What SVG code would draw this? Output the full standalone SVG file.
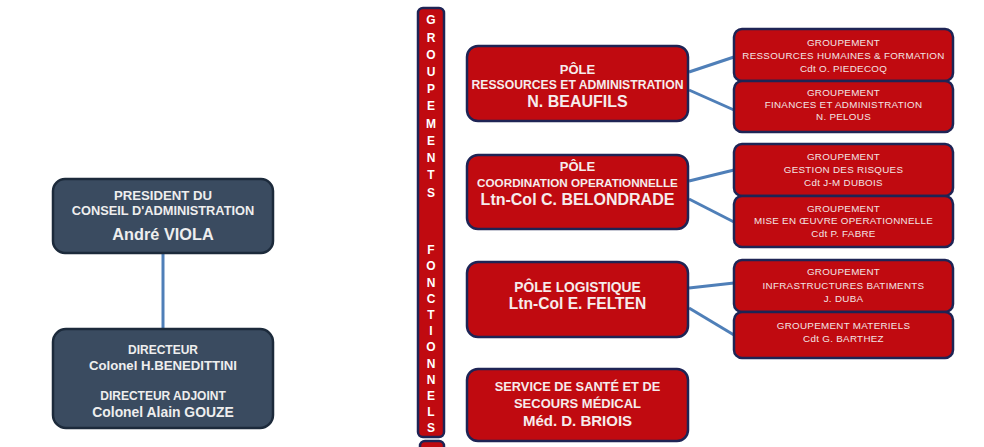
<svg xmlns="http://www.w3.org/2000/svg" width="984" height="447" viewBox="0 0 984 447">
<style>
.dark{fill:#3a4b60;stroke:#1c2a3b;stroke-width:2.5}
.red{fill:#c00a10;stroke:#1e2455;stroke-width:2.5}
.t{font-family:"Liberation Sans",Arial,sans-serif;text-anchor:middle;font-weight:bold}
.lt{fill:#eeeeee}
.rt{fill:#f6ecec}
.g{font-family:"Liberation Sans",Arial,sans-serif;text-anchor:middle;fill:#f2e4e4;font-size:9.8px;letter-spacing:0.3px}
.v{font-family:"Liberation Sans",Arial,sans-serif;text-anchor:middle;font-weight:bold;fill:#ffffff;font-size:12px}
.c{stroke:#4f7fb8;stroke-width:3;fill:none}
</style>
<rect width="984" height="447" fill="#ffffff"/>
<g id="connectors">
<line class="c" x1="163" y1="253" x2="163" y2="329"/>
<line class="c" x1="689" y1="72" x2="734" y2="57"/>
<line class="c" x1="689" y1="90" x2="734" y2="110"/>
<line class="c" x1="689" y1="181" x2="734" y2="170"/>
<line class="c" x1="689" y1="199" x2="734" y2="222"/>
<line class="c" x1="689" y1="288" x2="734" y2="283"/>
<line class="c" x1="689" y1="308" x2="734" y2="335"/>
</g>
<g id="president">
<rect class="dark" x="53" y="179" width="220" height="74" rx="12"/>
<text class="t lt" x="163" y="200" font-size="13.2">PRESIDENT DU</text>
<text class="t lt" x="163" y="215" font-size="12.8">CONSEIL D'ADMINISTRATION</text>
<text class="t lt" x="163" y="240" font-size="16.3">André VIOLA</text>
</g>
<g id="directeur">
<rect class="dark" x="53" y="329" width="220" height="99" rx="13"/>
<text class="t lt" x="163" y="354" font-size="12">DIRECTEUR</text>
<text class="t lt" x="163" y="370" font-size="13.2">Colonel H.BENEDITTINI</text>
<text class="t lt" x="163" y="400" font-size="12">DIRECTEUR ADJOINT</text>
<text class="t lt" x="163" y="417" font-size="13.9">Colonel Alain GOUZE</text>
</g>
<g id="bar">
<rect class="red" x="418" y="8" width="26" height="429" rx="5"/>
<text class="v" x="431" y="24">G</text>
<text class="v" x="431" y="42">R</text>
<text class="v" x="431" y="59">O</text>
<text class="v" x="431" y="76">U</text>
<text class="v" x="431" y="93">P</text>
<text class="v" x="431" y="110">E</text>
<text class="v" x="431" y="128">M</text>
<text class="v" x="431" y="145">E</text>
<text class="v" x="431" y="162">N</text>
<text class="v" x="431" y="179">T</text>
<text class="v" x="431" y="197">S</text>
<text class="v" x="431" y="254">F</text>
<text class="v" x="431" y="270">O</text>
<text class="v" x="431" y="287">N</text>
<text class="v" x="431" y="303">C</text>
<text class="v" x="431" y="319">T</text>
<text class="v" x="431" y="335">I</text>
<text class="v" x="431" y="351">O</text>
<text class="v" x="431" y="368">N</text>
<text class="v" x="431" y="384">N</text>
<text class="v" x="431" y="400">E</text>
<text class="v" x="431" y="416">L</text>
<text class="v" x="431" y="432">S</text>
</g>
<g id="bar2">
<rect class="red" x="420" y="441" width="24" height="20" rx="5"/>
</g>
<g id="pole-ressources">
<rect class="red" x="467" y="46" width="221" height="75" rx="11"/>
<text class="t rt" x="577.5" y="74" font-size="13">PÔLE</text>
<text class="t rt" x="577.5" y="89" font-size="12.2">RESSOURCES ET ADMINISTRATION</text>
<text class="t rt" x="577.5" y="107" font-size="16">N. BEAUFILS</text>
</g>
<g id="pole-coordination">
<rect class="red" x="467" y="155" width="221" height="74" rx="11"/>
<text class="t rt" x="577.5" y="171" font-size="13">PÔLE</text>
<text class="t rt" x="577.5" y="187" font-size="11.7">COORDINATION OPERATIONNELLE</text>
<text class="t rt" x="577.5" y="205" font-size="16">Ltn-Col C. BELONDRADE</text>
</g>
<g id="pole-logistique">
<rect class="red" x="467" y="262" width="221" height="75" rx="11"/>
<text class="t rt" x="577.5" y="292" font-size="13.8">PÔLE LOGISTIQUE</text>
<text class="t rt" x="577.5" y="309" font-size="15.6">Ltn-Col E. FELTEN</text>
</g>
<g id="service-sante">
<rect class="red" x="467" y="369" width="221" height="72" rx="11"/>
<text class="t rt" x="577.5" y="391" font-size="12.8">SERVICE DE SANTÉ ET DE</text>
<text class="t rt" x="577.5" y="408" font-size="13">SECOURS MÉDICAL</text>
<text class="t rt" x="577.5" y="426" font-size="15">Méd. D. BRIOIS</text>
</g>
<g id="grp-rh">
<rect class="red" x="734" y="29" width="219" height="52" rx="8"/>
<text class="g" x="843.5" y="46">GROUPEMENT</text>
<text class="g" x="843.5" y="59">RESSOURCES HUMAINES &amp; FORMATION</text>
<text class="g" x="843.5" y="72">Cdt O. PIEDECOQ</text>
</g>
<g id="grp-finances">
<rect class="red" x="734" y="81" width="219" height="51" rx="8"/>
<text class="g" x="843.5" y="96">GROUPEMENT</text>
<text class="g" x="843.5" y="108">FINANCES ET ADMINISTRATION</text>
<text class="g" x="843.5" y="120">N. PELOUS</text>
</g>
<g id="grp-risques">
<rect class="red" x="734" y="144" width="219" height="52" rx="8"/>
<text class="g" x="843.5" y="160">GROUPEMENT</text>
<text class="g" x="843.5" y="173">GESTION DES RISQUES</text>
<text class="g" x="843.5" y="186">Cdt J-M DUBOIS</text>
</g>
<g id="grp-mise-en-oeuvre">
<rect class="red" x="734" y="196" width="219" height="51" rx="8"/>
<text class="g" x="843.5" y="212">GROUPEMENT</text>
<text class="g" x="843.5" y="224">MISE EN ŒUVRE OPERATIONNELLE</text>
<text class="g" x="843.5" y="237">Cdt P. FABRE</text>
</g>
<g id="grp-infrastructures">
<rect class="red" x="734" y="260" width="219" height="52" rx="8"/>
<text class="g" x="843.5" y="275">GROUPEMENT</text>
<text class="g" x="843.5" y="289">INFRASTRUCTURES BATIMENTS</text>
<text class="g" x="843.5" y="302">J. DUBA</text>
</g>
<g id="grp-materiels">
<rect class="red" x="734" y="312" width="219" height="46" rx="8"/>
<text class="g" x="843.5" y="329">GROUPEMENT MATERIELS</text>
<text class="g" x="843.5" y="342">Cdt G. BARTHEZ</text>
</g>
</svg>
